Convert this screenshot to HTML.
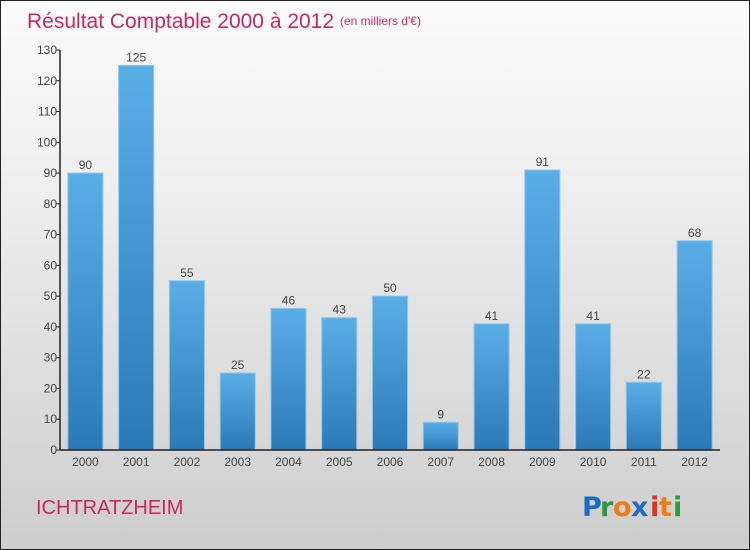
<!DOCTYPE html>
<html><head><meta charset="utf-8"><style>
body{margin:0;width:750px;height:550px;overflow:hidden;font-family:"Liberation Sans",sans-serif}
#wrap{position:absolute;left:0;top:0;width:748px;height:548px;border:1px solid #222;background:linear-gradient(#fbfbfb,#f0f0f0 30%,#cdcdcd)}
</style></head><body>
<div id="wrap">
<svg width="748" height="548" id="svg" style="position:absolute;left:-1px;top:-1px;overflow:visible">
<defs><linearGradient id="bg" x1="0" y1="0" x2="0" y2="1"><stop offset="0" stop-color="#5aaee6"/><stop offset="1" stop-color="#2a7ab8"/></linearGradient></defs>
<text x="27" y="28" font-size="21" fill="#c8285f">Résultat Comptable 2000 à 2012</text>
<text x="340" y="25" font-size="12" fill="#c8285f">(en milliers d'€)</text>
<text x="36" y="514" font-size="20" fill="#c8285f">ICHTRATZHEIM</text>
<g font-size="27" font-weight="bold" font-family="'DejaVu Sans',sans-serif">
<text x="582" y="516" fill="#1a6cc4">P</text><text x="600" y="516" fill="#2a9a3a">r</text><text x="613" y="516" fill="#f07d10">o</text><text x="631" y="516" fill="#1a6cc4">x</text><text x="650" y="516" fill="#e53020">i</text><text x="659" y="516" fill="#f07d10">t</text><text x="673" y="516" fill="#2a9a3a">i</text></g>
<g id="plot"></g>
</svg></div>
<script>
const categories=["2000","2001","2002","2003","2004","2005","2006","2007","2008","2009","2010","2011","2012"];
const values=[90,125,55,25,46,43,50,9,41,91,41,22,68];
const ticks=[0,10,20,30,40,50,60,70,80,90,100,110,120,130];
const NS="http://www.w3.org/2000/svg";
const x0=60,x1=720,y0=450,y1=50,vmax=130;
const band=(x1-x0)/categories.length;
const y=v=>y0-(v/vmax)*(y0-y1);
const xc=i=>x0+band*(i+0.5);
const g=document.getElementById('plot');
function mk(t,a){const e=document.createElementNS(NS,t);for(const k in a)e.setAttribute(k,a[k]);g.appendChild(e);return e;}
values.forEach((v,i)=>{
 const r=mk('rect',{x:xc(i)-17.5,y:y(v),width:35,height:y0-y(v),fill:'url(#bg)',stroke:'#8cc4ee','stroke-width':1});
 
 
 const t=mk('text',{x:xc(i),y:y(v)-4,'font-size':12,'text-anchor':'middle',fill:'#444'});t.textContent=v;
 
 
 const c=mk('text',{x:xc(i),y:466,'font-size':12,'text-anchor':'middle',fill:'#444'});c.textContent=categories[i];
 
 
});
ticks.forEach(t=>{
 mk('line',{x1:x0-4,x2:x0,y1:y(t),y2:y(t),stroke:'#222'});
 const l=mk('text',{x:x0-3,y:y(t)+4,'font-size':12,'text-anchor':'end',fill:'#444'});l.textContent=t;
 
 
});
const ya=mk('line',{x1:x0,x2:x0,y1:y1,y2:y0,stroke:'#222','stroke-width':1.5});


const xa=mk('line',{x1:x0,x2:x1,y1:y0,y2:y0,stroke:'#222','stroke-width':1.5});


</script>
</body></html>
